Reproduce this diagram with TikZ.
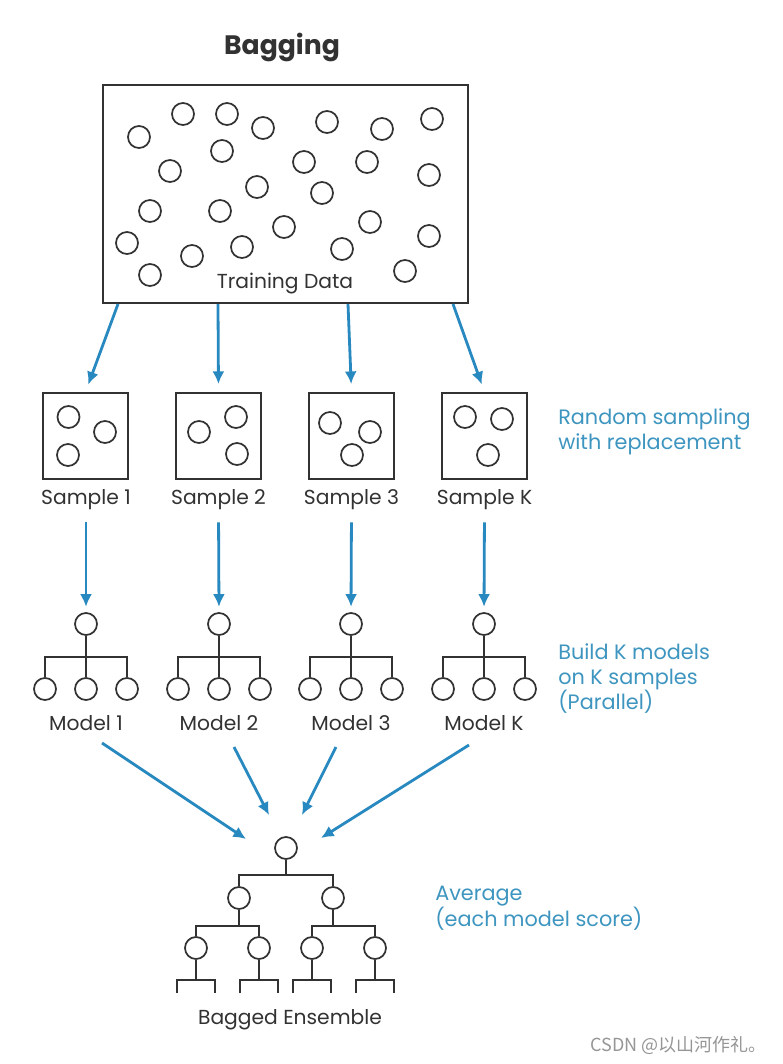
\documentclass[tikz,border=0pt]{standalone}
\usepackage{fontspec}
\setmainfont{Poppins}
\newfontfamily\cjkfont{Noto Sans CJK SC}
\usetikzlibrary{arrows.meta,calc}
\definecolor{ink}{RGB}{50,50,50}
\definecolor{arrblue}{RGB}{40,136,192}
\definecolor{noteblue}{RGB}{62,150,192}
\definecolor{wm}{RGB}{150,150,150}
\tikzset{
  dot/.style={circle,draw=ink,line width=1.3pt,minimum size=16.5pt,inner sep=0pt},
  sbox/.style={draw=ink,line width=1.4pt,minimum width=63.75pt,minimum height=64.5pt,inner sep=0pt},
  tline/.style={draw=ink,line width=1.4pt},
  arr/.style={draw=arrblue,line width=2.1pt,-{Latex[length=9.5pt,width=9pt]}},
  lbl/.style={text=ink,font=\fontsize{15.2}{18}\selectfont,inner sep=0pt},
  note/.style={text=noteblue,font=\fontsize{15.6}{19}\selectfont,align=left,anchor=north west,inner sep=0pt},
}
\begin{document}
\begin{tikzpicture}[x=0.75pt,y=-0.75pt]
\useasboundingbox[fill=white] (0,0) rectangle (782,1064);

% title
\node[text=ink,font=\bfseries\fontsize{20}{24}\selectfont] (title) at (282,47) {Bagging};

% training data box
\node[draw=ink,line width=1.5pt,minimum width=273.75pt,minimum height=163.5pt,inner sep=0pt] (td) at (285.5,194) {};
\foreach \x/\y [count=\i] in {139/137,183/114,227/114,263/128,327/122,382/129,432/119,
  222/151,170/171,304/162,367/162,429/175,257/187,322/193,150/211,220/211,284/227,
  370/222,429/236,127/243,192/256,242/247,342/249,150/275,405/271}
  \node[dot] (d\i) at (\x,\y) {};
\node[lbl] (tdl) at (285,284) {Training Data};

% samples
\foreach \x [count=\i] in {85.5,218.5,351.5,484.5}
  \node[sbox] (s\i) at (\x,436) {};
\node[dot] (s1a) at ($(s1)+(-17,-19)$) {};
\node[dot] (s1b) at ($(s1)+(19.5,-4)$) {};
\node[dot] (s1c) at ($(s1)+(-17.5,19)$) {};
\node[dot] (s2a) at ($(s2)+(-19.5,-4)$) {};
\node[dot] (s2b) at ($(s2)+(17.5,-19)$) {};
\node[dot] (s2c) at ($(s2)+(18.5,18)$) {};
\node[dot] (s3a) at ($(s3)+(-21.5,-13)$) {};
\node[dot] (s3b) at ($(s3)+(18.5,-4)$) {};
\node[dot] (s3c) at ($(s3)+(0.5,19)$) {};
\node[dot] (s4a) at ($(s4)+(-19.5,-19)$) {};
\node[dot] (s4b) at ($(s4)+(17.5,-17)$) {};
\node[dot] (s4c) at ($(s4)+(3.5,19)$) {};

\node[lbl] (sl1) at (86,500) {Sample 1};
\node[lbl] (sl2) at (218.5,500) {Sample 2};
\node[lbl] (sl3) at (351.5,500) {Sample 3};
\node[lbl] (sl4) at (484.5,500) {Sample K};

% arrows from training data
\coordinate (t1) at (118,304);
\coordinate (t2) at (218,304);
\coordinate (t3) at (348,304);
\coordinate (t4) at (453,304);
\draw[arr,shorten >=6pt] (t1) -- (s1.north);
\draw[arr,shorten >=6pt] (t2) -- (s2.north);
\draw[arr,shorten >=6pt] (t3) -- (s3.north);
\draw[arr,shorten >=6pt] (t4) -- (s4.north);

% models
\foreach \x [count=\i] in {86,219,351,484}{
  \node[dot] (m\i r) at (\x,624) {};
  \node[dot] (m\i a) at (\x-41,689) {};
  \node[dot] (m\i b) at (\x,689) {};
  \node[dot] (m\i c) at (\x+41,689) {};
  \coordinate (m\i bar) at (\x,657);
  \draw[tline] (m\i r.south) -- (m\i b.north);
  \draw[tline] (m\i a.north) |- (m\i bar) -| (m\i c.north);
}
\node[lbl] (ml1) at (86,723) {Model 1};
\node[lbl] (ml2) at (219,723) {Model 2};
\node[lbl] (ml3) at (351,723) {Model 3};
\node[lbl] (ml4) at (484,723) {Model K};

% arrows samples -> models
\foreach \i in {1,2,3,4}
  \draw[arr,shorten <=9pt,shorten >=4pt] (sl\i.south) -- (m\i r.north);

% bottom tree
\node[dot] (b0) at (286,848) {};
\node[dot] (b1) at (239,898) {};
\node[dot] (b2) at (333,898) {};
\node[dot] (c1) at (196,948) {};
\node[dot] (c2) at (259,948) {};
\node[dot] (c3) at (312,948) {};
\node[dot] (c4) at (375,948) {};
\coordinate (bb0) at (286,875);
\coordinate (bb1) at (239,926);
\coordinate (bb2) at (333,926);
\draw[tline] (b0.south) -- (bb0);
\draw[tline] (b1.north) |- (bb0) -| (b2.north);
\draw[tline] (b1.south) -- (bb1);
\draw[tline] (b2.south) -- (bb2);
\draw[tline] (c1.north) |- (bb1) -| (c2.north);
\draw[tline] (c3.north) |- (bb2) -| (c4.north);
\foreach \i in {1,2,3,4}{
  \coordinate (k\i) at ($(c\i.center)+(0,32)$);
  \coordinate (kl\i) at ($(k\i)+(-19,13)$);
  \coordinate (kr\i) at ($(k\i)+(19,13)$);
  \draw[tline] (c\i.south) -- (k\i);
  \draw[tline] (kl\i) |- (k\i) -| (kr\i);
}
\node[lbl] (be) at (290,1020) {Bagged Ensemble};

% arrows models -> ensemble
\coordinate (u1) at (102,743);
\coordinate (u2) at (234,747);
\coordinate (u3) at (336,747);
\coordinate (u4) at (469,745);
\coordinate (v1) at (246,839);
\coordinate (v2) at (269,815);
\coordinate (v3) at (302,815);
\coordinate (v4) at (321,838);
\foreach \i in {1,2,3,4}
  \draw[arr] (u\i) -- (v\i);

% notes
\node[note] (n1) at (558,408) {Random sampling\\with replacement};
\node[note] (n2) at (558,643) {Build K models\\on K samples\\(Parallel)};
\node[note] (n3) at (435,886) {Average\\(each model score)};

% watermark
\node[text=wm,font=\cjkfont\fontsize{13.5}{16}\selectfont,anchor=east,inner sep=0pt] (wmk) at (767,1045) {CSDN @以山河作礼。};
\end{tikzpicture}
\end{document}
